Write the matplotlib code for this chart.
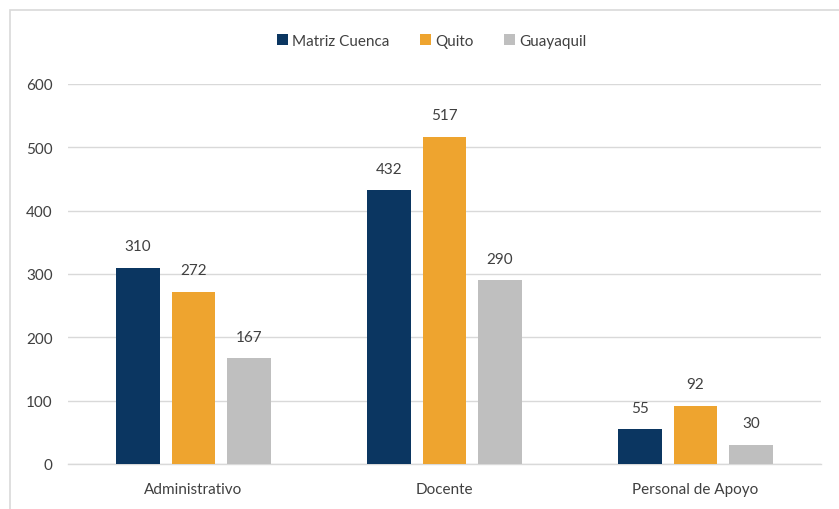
import matplotlib
matplotlib.use("Agg")
import matplotlib.pyplot as plt
import numpy as np
from matplotlib.patches import Rectangle

categories = ["Administrativo", "Docente", "Personal de Apoyo"]
series_names = ["Matriz Cuenca", "Quito", "Guayaquil"]
matriz = [310, 432, 55]
quito = [272, 517, 92]
guayaquil = [167, 290, 30]
colors = ["#0B3661", "#EEA42F", "#BFBFBF"]
yticks = [0, 100, 200, 300, 400, 500, 600]

plt.rcParams['font.family'] = ['Lato', 'DejaVu Sans']

fig = plt.figure(figsize=(8.39, 5.10), dpi=100)
W, H = 839, 510
ax = fig.add_axes([68 / W, 1 - 465 / H, (821 - 68) / W, (465 - 85) / H])

x = np.arange(len(categories))
bw = 0.175
step = 0.221
fs = 11
for i, (name, vals, c) in enumerate(zip(series_names, [matriz, quito, guayaquil], colors)):
    pos = x + (i - 1) * step
    ax.bar(pos, vals, width=bw, color=c, label=name, zorder=3)
    for p, v in zip(pos, vals):
        ax.text(p, v + 23, str(v), ha="center", va="bottom", fontsize=fs, color="#404040")

ax.set_xlim(-0.5, 2.5)
ax.set_ylim(0, 600)
ax.set_yticks(yticks)
ax.set_xticks(x)
ax.set_xticklabels(categories)
ax.tick_params(axis="both", length=0, labelsize=fs, labelcolor="#404040")
ax.tick_params(axis="y", pad=11)
ax.tick_params(axis="x", pad=13)
ax.grid(axis="y", color="#D9D9D9", linewidth=1, zorder=0)
for s in ["top", "right", "left"]:
    ax.spines[s].set_visible(False)
ax.spines["bottom"].set_color("#D9D9D9")
ax.spines["bottom"].set_linewidth(1)

leg = fig.legend(loc="center", bbox_to_anchor=(432 / W, 1 - 42 / H), ncol=3, frameon=False,
                 fontsize=fs, handlelength=0.7, handleheight=0.7, handletextpad=0.3,
                 columnspacing=2.0)
for t in leg.get_texts():
    t.set_color("#404040")

# outer chart border
fig.add_artist(Rectangle((9.5 / W, -0.05), 1.2, 1 - 10.5 / H + 0.05, transform=fig.transFigure,
                         fill=False, edgecolor="#D9D9D9", linewidth=1.2))

fig.savefig("out.png", dpi=100)
